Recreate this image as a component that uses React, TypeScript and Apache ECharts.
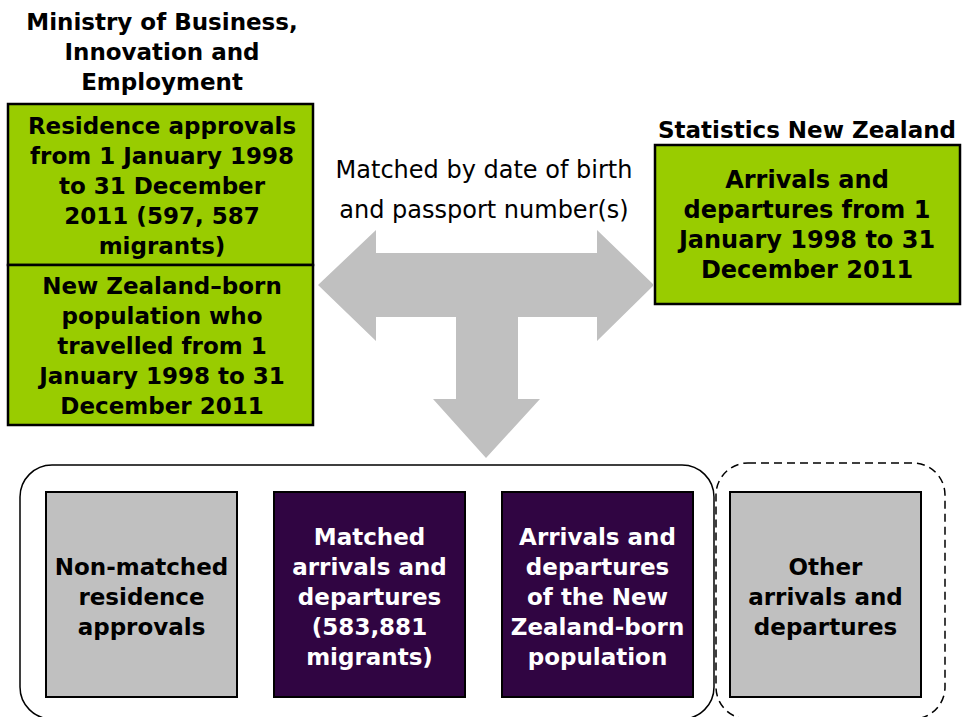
import React, { useEffect, useRef } from "react";
import * as echarts from "echarts";

const titleLeft = ["Ministry of Business,", "Innovation and", "Employment"];
const titleRight = ["Statistics New Zealand"];
const residenceBox = ["Residence approvals", "from 1 January 1998", "to 31 December", "2011 (597, 587", "migrants)"];
const nzBornBox = ["New Zealand\u2013born", "population who", "travelled from 1", "January 1998 to 31", "December 2011"];
const statsBox = ["Arrivals and", "departures from 1", "January 1998 to 31", "December 2011"];
const matchText = ["Matched by date of birth", "and passport number(s)"];
const outcomeLabels = [
  ["Non-matched", "residence", "approvals"],
  ["Matched", "arrivals and", "departures", "(583,881", "migrants)"],
  ["Arrivals and", "departures", "of the New", "Zealand-born", "population"],
  ["Other", "arrivals and", "departures"],
];
const outcomeKinds = ["gray", "purple", "purple", "gray"];

const GREEN = "#99CC00";
const GRAY = "#C0C0C0";
const PURPLE = "#300542";
const FONT_B = "bold 23px 'DejaVu Sans', Verdana, sans-serif";
const FONT_R = "24px 'DejaVu Sans', Verdana, sans-serif";

function label(lines: string[], x: number, y: number, font: string, fill = "#000", lh = 30, align = "center") {
  return {
    type: "text",
    x,
    y,
    z: 10,
    style: {
      text: lines.join("\n"),
      font,
      fill,
      align,
      verticalAlign: "middle",
      lineHeight: lh,
    },
  };
}

export default function App() {
  const ref = useRef<HTMLDivElement>(null);
  useEffect(() => {
    if (!ref.current) return;
    const chart = echarts.init(ref.current, null, { renderer: "svg" });
    const elements: any[] = [];

    // Titles
    elements.push(label(titleLeft, 162, 52, FONT_B));
    elements.push(label(titleRight, 807, 130, FONT_B));

    // Left green boxes
    elements.push({ type: "rect", shape: { x: 8, y: 104, width: 305, height: 161 }, style: { fill: GREEN, stroke: "#000", lineWidth: 2.5 } });
    elements.push({ type: "rect", shape: { x: 8, y: 265, width: 305, height: 160 }, style: { fill: GREEN, stroke: "#000", lineWidth: 2.5 } });
    elements.push(label(residenceBox, 162, 186, FONT_B));
    elements.push(label(nzBornBox, 162, 346, FONT_B));

    // Right green box
    elements.push({ type: "rect", shape: { x: 655, y: 145, width: 305, height: 159 }, style: { fill: GREEN, stroke: "#000", lineWidth: 2.5 } });
    elements.push(label(statsBox, 807, 225, "bold 24px 'DejaVu Sans', Verdana, sans-serif"));

    // Matched text
    elements.push(label(matchText, 484, 190, FONT_R, "#000", 40));

    // Gray T-arrow
    elements.push({
      type: "polygon",
      shape: {
        points: [
          [318, 285], [376, 230], [376, 253], [597, 253], [597, 230], [654, 285],
          [597, 341], [597, 317], [518, 317], [518, 399], [540, 399], [486, 458],
          [433, 399], [456, 399], [456, 317], [376, 317], [376, 341],
        ],
      },
      style: { fill: GRAY, stroke: null },
    });

    // Rounded containers
    elements.push({ type: "rect", shape: { x: 20, y: 465, width: 694, height: 254, r: 32 }, style: { fill: "none", stroke: "#000", lineWidth: 1.5 } });
    elements.push({ type: "rect", shape: { x: 716, y: 463, width: 229, height: 256, r: 32 }, style: { fill: "none", stroke: "#000", lineWidth: 1.5, lineDash: [8, 5] } });

    // Outcome boxes
    const boxX = [46, 274, 502, 730];
    outcomeLabels.forEach((lines, i) => {
      const purple = outcomeKinds[i] === "purple";
      elements.push({ type: "rect", shape: { x: boxX[i], y: 492, width: 191, height: 205 }, style: { fill: purple ? PURPLE : GRAY, stroke: "#000", lineWidth: 2 } });
      elements.push(label(lines, boxX[i] + 95.5, 597, FONT_B, purple ? "#fff" : "#000"));
    });

    chart.setOption({ animation: false, graphic: { elements } });
    return () => chart.dispose();
  }, []);
  return <div ref={ref} style={{ position: "absolute", left: 0, top: 0, width: 962, height: 717, background: "#fff" }} />;
}
